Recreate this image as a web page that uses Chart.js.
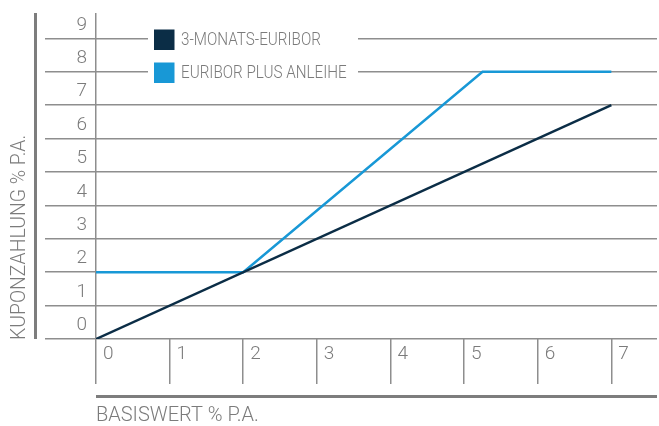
<!DOCTYPE html>
<html>
<head>
<meta charset="utf-8">
<script src="https://cdn.jsdelivr.net/npm/chart.js@4.4.1/dist/chart.umd.min.js"></script>
<style>
  html, body { margin: 0; padding: 0; background: #fff; }
  #wrap { width: 659px; height: 426px; }
</style>
</head>
<body>
<div id="wrap"><canvas id="myChart" width="659" height="426"></canvas></div>
<script>
const seriesNames = ['3-MONATS-EURIBOR', 'EURIBOR PLUS ANLEIHE'];
const euriborX = [0, 7];
const euriborY = [0, 7];
const plusX = [0, 2, 5.25, 7];
const plusY = [2, 2, 8, 8];
const xTicks = [0, 1, 2, 3, 4, 5, 6, 7];
const yTicks = [0, 1, 2, 3, 4, 5, 6, 7, 8, 9];
const xTitle = 'BASISWERT % P.A.';
const yTitle = 'KUPONZAHLUNG % P.A.';

const gridGray = '#8e8e8e';
const textGray = '#7b7b7b';
const barGray = '#7d7d7d';
const fontFam = 'Roboto';

function points(xs, ys) {
    return xs.map((x, i) => ({ x: x, y: ys[i] }));
}

// narrow text: the original face is condensed
function narrowText(c, txt, x, y, sx) {
    c.save();
    c.translate(x, y);
    c.scale(sx, 1);
    c.fillText(txt, 0, 0);
    c.restore();
}

// extra decorations: side bars, legend box, axis titles
const decorations = {
    id: 'decorations',
    afterDatasetsDraw(chart) {
        const c = chart.ctx;
        const area = chart.chartArea;
        c.save();
        c.fillStyle = barGray;
        c.fillRect(34, area.top, 3, area.bottom - area.top);
        c.fillRect(area.left, 395, area.right - area.left, 3);

        // legend on white background over the grid
        c.fillStyle = '#fff';
        c.fillRect(148, 26, 210, 60);
        const rows = [40, 73];
        chart.data.datasets.forEach((ds, i) => {
            c.fillStyle = ds.borderColor;
            c.fillRect(154, rows[i] - 10.5, 20.5, 20.5);
            c.fillStyle = textGray;
            c.font = '300 17.5px ' + fontFam;
            c.textBaseline = 'middle';
            c.textAlign = 'left';
            narrowText(c, ds.label, 181, rows[i] + 1, 0.87);
        });

        c.font = '300 20px ' + fontFam;
        c.fillStyle = textGray;
        c.textBaseline = 'alphabetic';
        c.textAlign = 'left';
        narrowText(c, xTitle, area.left, 421, 1);

        c.translate(25, area.bottom + 1);
        c.rotate(-Math.PI / 2);
        narrowText(c, yTitle, 0, 0, 0.97);
        c.restore();
    }
};

const ctx = document.getElementById('myChart').getContext('2d');

const myChart = new Chart(ctx, {
    type: 'line',
    data: {
        datasets: [{
            label: seriesNames[0],
            data: points(euriborX, euriborY),
            borderColor: '#0b2d46',
            borderWidth: 2.5,
            pointRadius: 0,
            tension: 0
        }, {
            label: seriesNames[1],
            data: points(plusX, plusY),
            borderColor: '#1898d6',
            borderWidth: 2.5,
            pointRadius: 0,
            tension: 0
        }]
    },
    options: {
        responsive: false,
        animation: false,
        layout: {
            padding: { left: 0, right: 2, top: 13, bottom: 0 }
        },
        plugins: {
            legend: { display: false },
            tooltip: { enabled: false }
        },
        scales: {
            x: {
                type: 'linear',
                min: 0,
                max: 7.62,
                afterBuildTicks: s => { s.ticks = xTicks.map(v => ({ value: v })); },
                afterFit: s => { s.height = 87; },
                border: { display: false },
                grid: {
                    color: c => (c.tick && c.tick.value === 0) ? gridGray : 'rgba(0,0,0,0)',
                    tickColor: gridGray,
                    tickLength: 45,
                    lineWidth: 1.5
                },
                ticks: {
                    autoSkip: false,
                    maxRotation: 0,
                    align: 'start',
                    labelOffset: 7,
                    padding: -41,
                    color: textGray,
                    font: { family: fontFam, size: 19, weight: 300 },
                    callback: v => String(v)
                }
            },
            y: {
                min: 0,
                max: 9.76,
                afterBuildTicks: s => { s.ticks = yTicks.map(v => ({ value: v })); },
                afterFit: s => { s.width = 96; },
                border: { display: false },
                grid: {
                    color: gridGray,
                    tickColor: gridGray,
                    tickLength: 51,
                    lineWidth: 1.5
                },
                ticks: {
                    labelOffset: -13.5,
                    padding: -42,
                    color: textGray,
                    font: { family: fontFam, size: 19, weight: 300 },
                    callback: v => String(v)
                }
            }
        }
    },
    plugins: [decorations]
});
</script>
</body>
</html>
